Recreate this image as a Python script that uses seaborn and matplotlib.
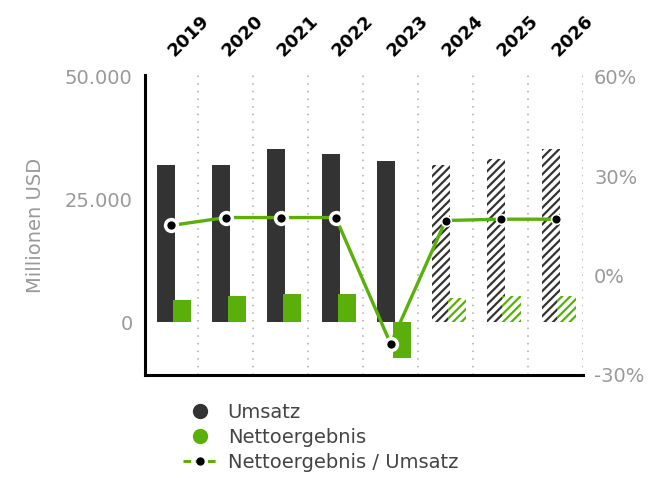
import matplotlib
matplotlib.use("Agg")
import matplotlib.pyplot as plt
import seaborn as sns
import numpy as np
import pandas as pd
from matplotlib.lines import Line2D
from matplotlib.ticker import FuncFormatter

years = ['2019', '2020', '2021', '2022', '2023', '2024', '2025', '2026']
umsatz = [32100, 32000, 35300, 34200, 32850, 32100, 33250, 35400]
netto = [4450, 5300, 5650, 5650, -7300, 4850, 5300, 5300]
ratio = [15.1, 17.5, 17.5, 17.5, -20.6, 16.6, 17.0, 17.0]
forecast = [False, False, False, False, False, True, True, True]
left_ticks = [0, 25000, 50000]
right_ticks = [-30, 0, 30, 60]

DARK = '#333333'
GREEN = '#5aaf0a'
GRAY = '#999999'

sns.set_theme(style='white')
plt.rcParams['font.family'] = ['DejaVu Sans']
plt.rcParams['hatch.linewidth'] = 1.6

fig = plt.figure(figsize=(6.5, 4.78), dpi=100)
ax = fig.add_axes([145/650, 1-375/478, (583-145)/650, 300/478])

pos = np.arange(len(years))
df = pd.DataFrame({'pos': pos, 'umsatz': umsatz, 'netto': netto, 'ratio': ratio, 'fc': forecast})

sns.barplot(data=df, x=pos - 0.09, y='umsatz', native_scale=True, width=0.33,
            color=DARK, saturation=1, errorbar=None, ax=ax, zorder=2)
sns.barplot(data=df, x=pos + 0.20, y='netto', native_scale=True, width=0.33,
            color=GREEN, saturation=1, errorbar=None, ax=ax, zorder=3)

patches = ax.patches
n = len(years)
for j, p in enumerate(patches):
    i = j % n
    p.set_linewidth(0)
    if forecast[i]:
        col = DARK if j < n else GREEN
        p.set_facecolor('white')
        p.set_edgecolor(col)
        p.set_hatch('////')

ax.set_xlim(-0.47, 7.5)
ax.set_ylim(-10800, 50400)
ax.set_xticks([])
ax.set_yticks(left_ticks)
ax.yaxis.set_major_formatter(FuncFormatter(lambda v, _: f"{int(v):,}".replace(',', '.')))
ax.tick_params(axis='y', length=0, pad=9, labelsize=14, labelcolor=GRAY)
ax.set_xlabel('')
ax.set_ylabel('Millionen USD', fontsize=14, color=GRAY, labelpad=14)
for s in ['top', 'right']:
    ax.spines[s].set_visible(False)
for s in ['left', 'bottom']:
    ax.spines[s].set_color('black')
    ax.spines[s].set_linewidth(2.2)

for b in np.arange(0.5, 7.6, 1.0):
    ax.axvline(b, color='#aaaaaa', linestyle=(0, (1, 4)), linewidth=1.1, zorder=1)

for i, y in enumerate(years):
    ax.text(i + 0.06, 1.06, y, transform=ax.get_xaxis_transform(), rotation=45,
            rotation_mode='anchor', ha='left', va='baseline', fontsize=13,
            fontweight='bold', color='black')

ax2 = ax.twinx()
ax2.set_ylim(-29.5, 60.5)
ax2.set_yticks(right_ticks)
ax2.yaxis.set_major_formatter(FuncFormatter(lambda v, _: f"{int(v)}%"))
ax2.tick_params(axis='y', length=0, pad=8, labelsize=14, labelcolor=GRAY)
for s in ax2.spines.values():
    s.set_visible(False)
ax2.grid(False)

sns.lineplot(data=df, x='pos', y='ratio', color=GREEN, linewidth=2.4, ax=ax2, zorder=3)
act = df[~df['fc']]
fc = df[df['fc']]
ax2.plot(act['pos'], act['ratio'], linestyle='none', marker='o', markersize=8.5,
         markerfacecolor='black', markeredgecolor='white', markeredgewidth=2.5, zorder=4)
ax2.plot(fc['pos'], fc['ratio'], linestyle='none', marker='o', markersize=7,
         markerfacecolor='black', markeredgecolor='white', markeredgewidth=1.2, zorder=4)
ax2.set_ylabel('')
ax2.set_xlabel('')
ax2.set_xlim(-0.47, 7.5)
ax2.set_xticks([])

handles = [
    Line2D([], [], linestyle='none', marker='o', markersize=10, color=DARK),
    Line2D([], [], linestyle='none', marker='o', markersize=10, color=GREEN),
    Line2D([], [], linestyle=(0, (2.5, 1.5)), color=GREEN, linewidth=2.2, marker='o',
           markersize=5, markerfacecolor='black', markeredgecolor='black'),
]
labels = ['Umsatz', 'Nettoergebnis', 'Nettoergebnis / Umsatz']
leg = fig.legend(handles, labels, loc='upper left', bbox_to_anchor=(183/650, 1-403/478),
                 frameon=False, fontsize=14, handlelength=1.7, handletextpad=0.6,
                 labelspacing=0.3, borderpad=0, borderaxespad=0)
for t in leg.get_texts():
    t.set_color('#444444')

fig.savefig('out.png', dpi=100)
